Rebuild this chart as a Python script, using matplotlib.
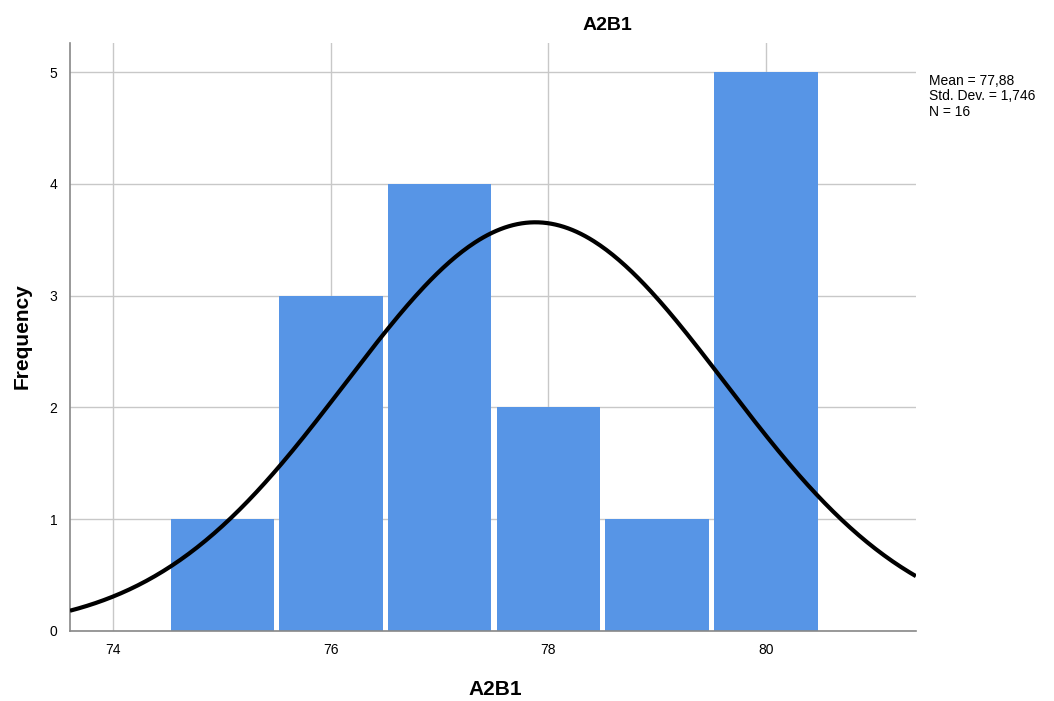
import numpy as np
import matplotlib.pyplot as plt

plt.rcParams['font.family'] = ['Liberation Sans', 'DejaVu Sans']

# A2B1 histogram (SPSS-style) with normal curve
bin_centers = [75, 76, 77, 78, 79, 80]
counts = [1, 3, 4, 2, 1, 5]
mean_val = 77.88
sd_val = 1.746
n_val = 16
x_ticks = [74, 76, 78, 80]
y_ticks = [0, 1, 2, 3, 4, 5]

fig = plt.figure(figsize=(10.54, 7.01), dpi=100)
ax = fig.add_axes([0.0664, 0.0999, 0.8026, 0.8388])

ax.bar(bin_centers, counts, width=0.95, color="#5795e6", linewidth=0, zorder=2)

xs = np.linspace(73.6, 81.38, 400)
pdf = n_val * 1.0 / (sd_val * np.sqrt(2 * np.pi)) * np.exp(-0.5 * ((xs - mean_val) / sd_val) ** 2)
ax.plot(xs, pdf, color="black", linewidth=3, zorder=3, solid_capstyle="butt")

ax.set_xlim(73.6, 81.38)
ax.set_ylim(0, 5.26)
ax.set_xticks(x_ticks)
ax.set_yticks(y_ticks)
ax.tick_params(length=0, labelsize=10, pad=9)
ax.grid(True, color="#c8c8c8", linewidth=1, zorder=0)
ax.set_axisbelow(True)
for s in ["top", "right"]:
    ax.spines[s].set_visible(False)
for s in ["left", "bottom"]:
    ax.spines[s].set_color("#888888")
    ax.spines[s].set_linewidth(1.2)

fig.text(0.47, 0.0157, "A2B1", ha="center", va="center", fontsize=15, fontweight="bold")
fig.text(0.021, 0.52, "Frequency", rotation=90, ha="center", va="center",
         fontsize=15, fontweight="bold")

fig.text(0.576, 0.964, "A2B1", ha="center", va="center", fontsize=14, fontweight="bold")
fig.text(0.881, 0.895, "Mean = 77,88\nStd. Dev. = 1,746\nN = 16", ha="left", va="top",
         fontsize=10, linespacing=1.15)

fig.savefig("out.png", dpi=100)
